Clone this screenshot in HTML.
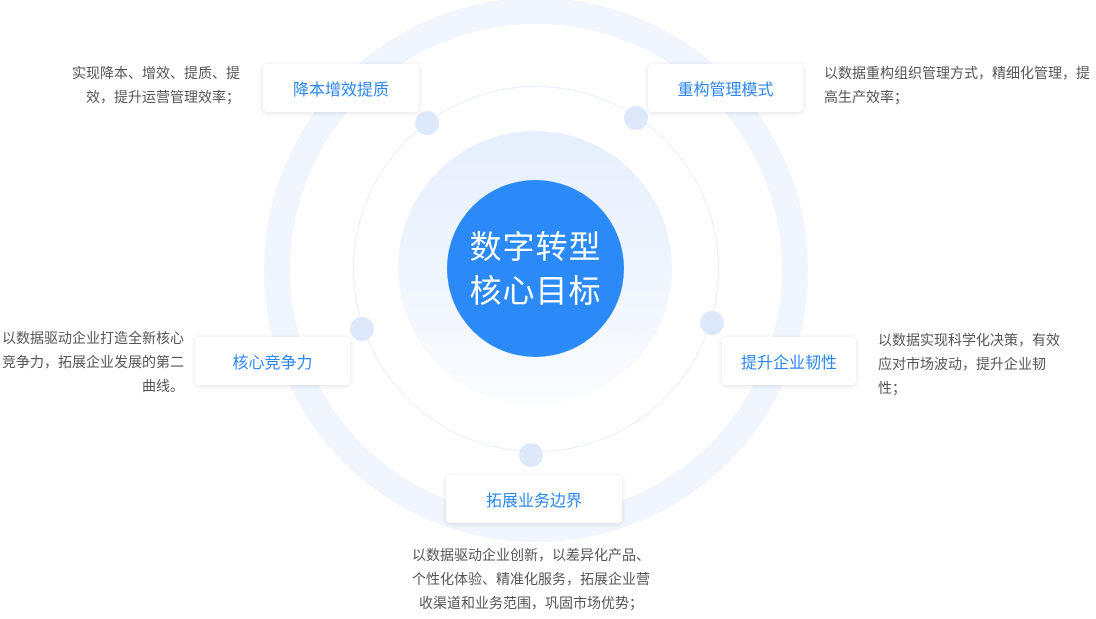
<!DOCTYPE html>
<html><head><meta charset="utf-8"><style>
body{margin:0;width:1096px;height:619px;background:#fff;position:relative;overflow:hidden;font-family:"Liberation Sans","Noto Sans CJK SC",sans-serif}
.c{position:absolute;border-radius:50%}
.box{position:absolute;background:#fff;border-radius:4px;box-shadow:0 1px 6px rgba(0,0,0,.12);color:#2b87f5;font-size:16px;display:flex;align-items:center;justify-content:center;height:48px}
.d{position:absolute;width:24px;height:24px;border-radius:50%;background:#dde9fb}
.t{position:absolute;font-size:14px;line-height:24px;color:#555}
</style></head><body>
<div class="c" style="left:264px;top:-2px;width:492px;height:492px;border:26px solid #f1f6fe;"></div>
<div class="c" style="left:353px;top:86px;width:364px;height:364px;border:1px solid #e6eefb;"></div>
<div class="c" style="left:398px;top:131px;width:274px;height:274px;background:linear-gradient(#e5effd,#fafcff);"></div>
<div class="c" style="left:447px;top:180px;width:177px;height:177px;background:#2b8af7;color:#fff;font-size:32px;line-height:44px;display:flex;align-items:center;justify-content:center;text-align:center;letter-spacing:1px">数字转型<br>核心目标</div>
<div class="d" style="left:415px;top:111px"></div>
<div class="d" style="left:624px;top:106px"></div>
<div class="d" style="left:350px;top:317px"></div>
<div class="d" style="left:700px;top:311px"></div>
<div class="d" style="left:519px;top:443px"></div>
<div class="box" style="left:263px;top:64px;width:156px">降本增效提质</div>
<div class="box" style="left:648px;top:64px;width:155px">重构管理模式</div>
<div class="box" style="left:195px;top:337px;width:155px">核心竞争力</div>
<div class="box" style="left:722px;top:337px;width:134px">提升企业韧性</div>
<div class="box" style="left:446px;top:475px;width:176px">拓展业务边界</div>
<div class="t" style="right:856px;top:61px;text-align:right;width:200px">实现降本、增效、提质、提<br>效，提升运营管理效率；</div>
<div class="t" style="left:824px;top:61px;width:272px">以数据重构组织管理方式，精细化管理，提<br>高生产效率；</div>
<div class="t" style="right:912px;top:326px;text-align:right;width:184px">以数据驱动企业打造全新核心<br>竞争力，拓展企业发展的第二<br>曲线。</div>
<div class="t" style="left:878px;top:328px;width:190px">以数据实现科学化决策，有效<br>应对市场波动，提升企业韧<br>性；</div>
<div class="t" style="left:381px;top:543px;width:300px;text-align:center">以数据驱动企业创新，以差异化产品、<br>个性化体验、精准化服务，拓展企业营<br>收渠道和业务范围，巩固市场优势；</div>
</body></html>
